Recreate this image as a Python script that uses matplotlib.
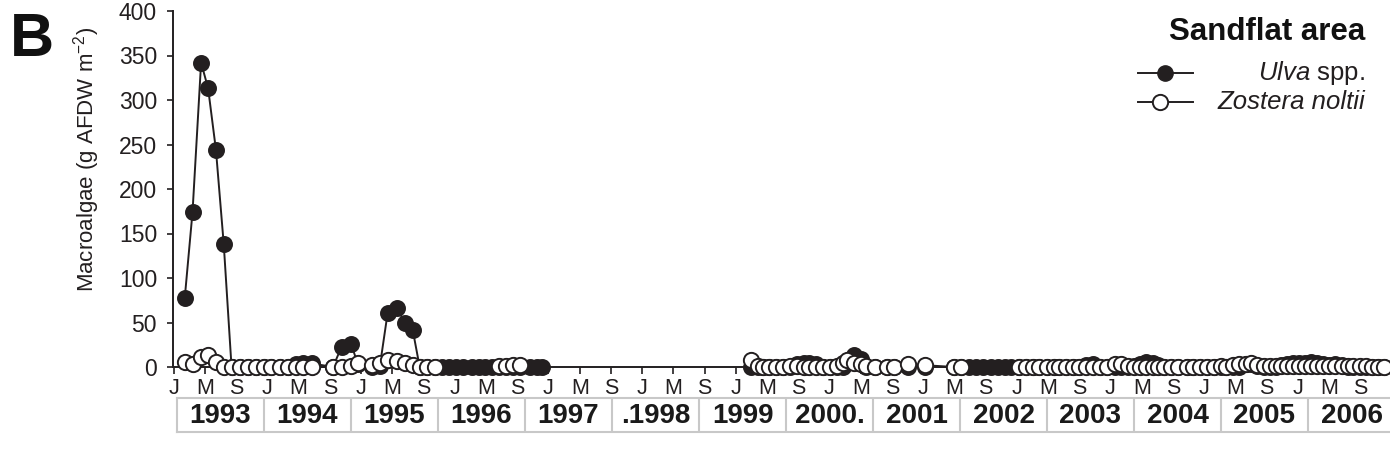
import numpy as np
import matplotlib
matplotlib.use("Agg")
import matplotlib.pyplot as plt
from matplotlib.lines import Line2D

plt.rcParams['font.family'] = ['Liberation Sans', 'DejaVu Sans']
plt.rcParams['mathtext.fontset'] = 'custom'
plt.rcParams['mathtext.rm'] = 'Liberation Sans'
plt.rcParams['mathtext.it'] = 'Liberation Sans:italic'
plt.rcParams['mathtext.bf'] = 'Liberation Sans:bold'

nan = np.nan
INK = '#231f20'

# sampling dates, months counted from January 1993
month_93_96 = [1.4, 2.4, 3.5, 4.4, 5.4, 6.4, 7.4, 8.5, 9.5, 10.5, 11.5, 12.5, 13.6, 14.6, 15.6, 16.6, 17.7,
               20.4, 21.5, 22.7, 23.6, 25.4, 26.4, 27.4, 28.6, 29.6, 30.6, 31.5, 32.5, 33.5,
               34.4, 35.3, 36.2, 37.1, 38.2, 39.1, 39.9, 40.8, 41.7, 42.6, 43.5, 44.4, 45.6, 46.5, 47.2]
ulva_93_96 = [77, 174, 342, 313, 244, 138, 0, 0, 0, 0, 0, 0, 0, 0, 3, 4, 4,
              0, 23, 26, 3, 0, 1, 61, 66, 50, 42, 0, 0, 0,
              0, 0, 0, 0, 0, 0, 0, 0, 0, 0, 0, 0, 0, 0, 0]
zostera_93_96 = [6, 3, 11, 14, 6, 0, 0, 0, 0, 0, 0, 0, 0, 0, 0, 0, 0,
                 0, 0, 1, 4, 2, 4, 8, 7, 5, 2, 0, 0, 0,
                 nan, nan, nan, nan, nan, nan, nan, nan, 1, 1, 2, 2, nan, nan, nan]

# no sampling in 1997-1998
month_gap = [60.0]
ulva_gap = [nan]
zostera_gap = [nan]

month_99_06 = [74.0, 74.8, 75.5, 76.3, 77.2, 78.1, 78.9, 79.8, 80.7, 81.4, 82.3, 83.2, 84.0, 84.9,
               85.7, 86.3, 87.1, 88.0, 88.7, 89.8, 91.4, 92.3, 94.0, 96.2,
               100.0, 100.9, 101.9, 102.8, 103.7, 104.7, 105.6, 106.5, 107.3,
               108.3, 109.2, 110.1, 110.9, 111.8, 112.7, 113.4, 114.3, 115.2, 116.0, 116.9, 117.7, 118.6, 119.5,
               120.6, 121.4, 122.3, 123.0, 123.8, 124.6, 125.4, 126.1, 126.9, 127.8, 128.7,
               129.8, 130.6, 131.4, 132.3, 133.2, 134.1, 134.8,
               135.7, 136.5, 137.3, 138.0, 138.8, 139.6, 140.4, 141.2, 141.9, 142.6, 143.4, 144.2, 144.9,
               145.7, 146.4, 147.2, 148.0, 148.8, 149.6, 150.4, 151.1, 151.9, 152.7, 153.5, 154.3, 155.0]
ulva_99_06 = [0, 0, 0, 0, 0, 0, 0, 3, 4, 4, 3, 0, 0, 0,
              0, 4, 13, 9, 0, 0, 0, 0, 0, 0,
              0, 0, 0, 0, 0, 0, 0, 0, 0,
              0, 0, 0, 0, 0, 0, 0, 0, 0, 0, 2, 3, 0, 0,
              0, 0, 0, 1, 3, 6, 5, 2, 0, 0, 0,
              0, 0, 0, 0, 0, 0, 0,
              0, 0, 3, 3, 1, 0, 0, 0, 2, 3, 4, 4, 5,
              6, 5, 3, 2, 3, 2, 0, 0, 0, 0, 0, 0, 0]
zostera_99_06 = [8, 1, 0, 0, 0, 0, 1, 1, 0, 0, 0, 0, 0, 1,
                 4, 8, 5, 3, 1, 0, 0, 0, 3, 2,
                 0, 0, nan, nan, nan, nan, nan, nan, nan,
                 0, 0, 0, 0, 0, 0, 0, 0, 0, 0, 0, 0, 0, 0,
                 3, 3, 1, 0, 0, 0, 0, 0, 0, 0, 0,
                 0, 0, 0, 0, 0, 1, 0,
                 2, 3, 3, 4, 2, 1, 1, 1, 1, 1, 1, 1, 1,
                 1, 1, 1, 1, 1, 1, 1, 1, 1, 1, 0, 0, 0]

month = month_93_96 + month_gap + month_99_06
ulva = ulva_93_96 + ulva_gap + ulva_99_06
zostera = zostera_93_96 + zostera_gap + zostera_99_06

tick_month = list(range(0, 153, 4))
tick_label = ['J', 'M', 'S'] * 13
years = ['1993', '1994', '1995', '1996', '1997', '.1998', '1999', '2000.',
         '2001', '2002', '2003', '2004', '2005', '2006']

W, H = 1390, 466
fig = plt.figure(figsize=(W / 100, H / 100), dpi=100)
ax = fig.add_axes([173 / W, 1 - 367 / H, 1217 / W, 356 / H])

ax.plot(month, ulva, color=INK, lw=1.4, marker='o', ms=11, mfc=INK, mec=INK,
        mew=1.2, clip_on=False, zorder=3)
ax.plot(month, zostera, color=INK, lw=1.4, marker='o', ms=11, mfc='white', mec=INK,
        mew=1.4, clip_on=False, zorder=4)

ax.set_xlim(-0.1, 155.8)
ax.set_ylim(0, 400)
ax.set_yticks(np.arange(0, 401, 50))
ax.set_xticks(tick_month)
ax.set_xticklabels(tick_label)
for s in ['top', 'right']:
    ax.spines[s].set_visible(False)
for s in ['left', 'bottom']:
    ax.spines[s].set_linewidth(1.4)
    ax.spines[s].set_color(INK)
ax.tick_params(axis='y', direction='out', length=4.5, width=1.2, pad=7,
               labelsize=16.5, colors=INK)
ax.tick_params(axis='x', direction='out', length=5, width=1.2, pad=3,
               labelsize=15.5, colors=INK)

ax.set_ylabel('Macroalgae (g AFDW m$^{-2}$)', fontsize=16, color=INK)
ax.yaxis.set_label_coords(-0.058, 0.584)

# year strip under the month labels
ay = fig.add_axes([177 / W, 1 - 432 / H, 87 * 14 / W, 34 / H])
ay.set_xlim(0, 14)
ay.set_ylim(0, 1)
ay.set_xticks([])
ay.set_yticks([])
for s in ['top', 'bottom', 'left', 'right']:
    ay.spines[s].set_color('#c8c8c8')
    ay.spines[s].set_linewidth(1.5)
for i, yr in enumerate(years):
    if i > 0:
        ay.axvline(i, color='#c8c8c8', lw=1.5)
    ay.text(i + 0.5, 0.47, yr, ha='center', va='center', fontsize=20,
            fontweight='bold', color='#1a1a1a')

# panel letter
fig.text(10 / W, 1 - 56 / H, 'B', fontsize=44, fontweight='bold', color='#111111',
         va='baseline', ha='left')

# legend
fig.text(1365 / W, 1 - 40 / H, 'Sandflat area', fontsize=22.5, fontweight='bold',
         color='#111111', ha='right', va='baseline')
fig.add_artist(Line2D([1138 / W, 1165 / W, 1193 / W], [1 - 73 / H] * 3,
                      transform=fig.transFigure, color=INK, lw=1.4, marker='o',
                      markevery=[1], ms=11, mfc=INK, mec=INK))
fig.add_artist(Line2D([1138 / W, 1160 / W, 1193 / W], [1 - 102 / H] * 3,
                      transform=fig.transFigure, color=INK, lw=1.4, marker='o',
                      markevery=[1], ms=11, mfc='white', mec=INK, mew=1.4))
fig.text(1365 / W, 1 - 80 / H, r'$\mathit{Ulva}$ spp.', fontsize=18.5, color=INK,
         ha='right', va='baseline')
fig.text(1365 / W, 1 - 109 / H, 'Zostera noltii', fontsize=18.5, style='italic',
         color=INK, ha='right', va='baseline')

fig.savefig('out.png', dpi=100)
